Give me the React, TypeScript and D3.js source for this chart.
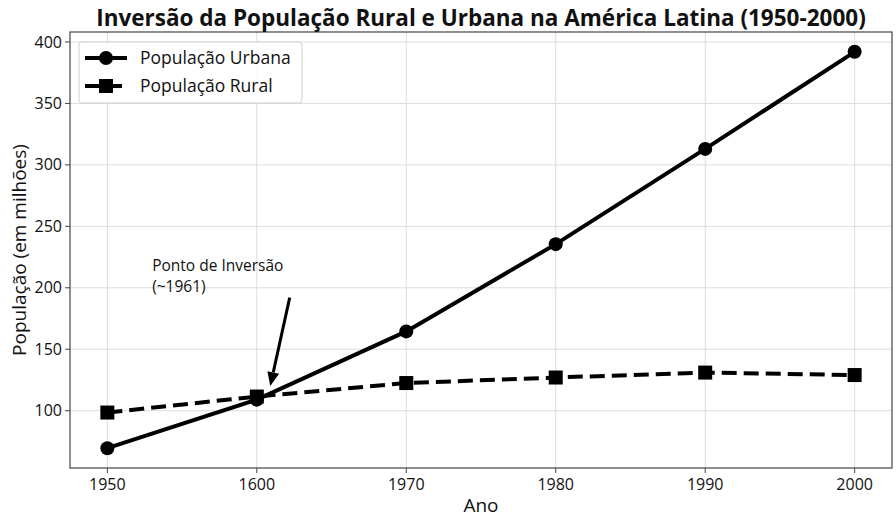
import React from "react";
import * as d3 from "d3";

const years = ["1950", "1600", "1970", "1980", "1990", "2000"];
const urbana = [69.5, 109, 164.5, 235.5, 313, 392];
const rural = [98.5, 111.5, 122.5, 127, 131, 129];
const yTicks = [100, 150, 200, 250, 300, 350, 400];
const title = "Inversão da População Rural e Urbana na América Latina (1950-2000)";
const annotText = ["Ponto de Inversão", "(~1961)"];
const annotTextPos = [0.3, 200];
const arrowFrom = [1.22, 192];
const arrowTo = [1.09, 120];

const W = 896, H = 519;
const m = { left: 70, right: 4, top: 32, bottom: 51 };
const FONT = "'Open Sans', 'Noto Sans', sans-serif";

export default function App() {
  const x = d3.scaleLinear().domain([-0.25, years.length - 1 + 0.25]).range([m.left, W - m.right]);
  const allV = [...urbana, ...rural];
  const lo = d3.min(allV)!, hi = d3.max(allV)!;
  const pad = (hi - lo) * 0.05;
  const y = d3.scaleLinear().domain([lo - pad, hi + pad]).range([H - m.bottom, m.top]);
  const line = d3.line<number>().x((_, i) => x(i)).y((d) => y(d));
  const px0 = m.left, px1 = W - m.right, py0 = m.top, py1 = H - m.bottom;

  const ax = x(arrowFrom[0]), ay = y(arrowFrom[1]);
  const bx = x(arrowTo[0]), by = y(arrowTo[1]);
  const ang = Math.atan2(by - ay, bx - ax);
  const hl = 14, hw = 6;
  const baseX = bx - hl * Math.cos(ang), baseY = by - hl * Math.sin(ang);
  const nx = -Math.sin(ang), ny = Math.cos(ang);
  const tx = x(annotTextPos[0]), ty = y(annotTextPos[1]);

  return (
    <svg width={W} height={H} style={{ position: "absolute", left: 0, top: 0, background: "#fff" }} fontFamily={FONT}>
      <rect x={0} y={0} width={W} height={H} fill="#fff" />
      {/* grid */}
      {years.map((_, i) => (
        <line key={"gx" + i} x1={x(i)} x2={x(i)} y1={py0} y2={py1} stroke="#dcdcdc" strokeWidth={1} />
      ))}
      {yTicks.map((t) => (
        <line key={"gy" + t} x1={px0} x2={px1} y1={y(t)} y2={y(t)} stroke="#dcdcdc" strokeWidth={1} />
      ))}
      {/* lines */}
      <path d={line(rural)!} fill="none" stroke="#000" strokeWidth={4} strokeDasharray="15 7" />
      <path d={line(urbana)!} fill="none" stroke="#000" strokeWidth={4} />
      {rural.map((v, i) => (
        <rect key={"r" + i} x={x(i) - 7} y={y(v) - 7} width={14} height={14} fill="#000" />
      ))}
      {urbana.map((v, i) => (
        <circle key={"u" + i} cx={x(i)} cy={y(v)} r={7} fill="#000" />
      ))}
      {/* annotation */}
      <text x={tx} y={ty - 17} fontSize={15.5} fill="#111">{annotText[0]}</text>
      <text x={tx} y={ty + 4} fontSize={15.5} fill="#111">{annotText[1]}</text>
      <line x1={ax} y1={ay} x2={baseX} y2={baseY} stroke="#000" strokeWidth={3} />
      <polygon
        points={`${bx},${by} ${baseX + nx * hw},${baseY + ny * hw} ${baseX - nx * hw},${baseY - ny * hw}`}
        fill="#000"
      />
      {/* frame */}
      <rect x={px0} y={py0} width={px1 - px0} height={py1 - py0} fill="none" stroke="#444" strokeWidth={1.2} />
      {/* x ticks */}
      {years.map((yr, i) => (
        <g key={"xt" + i}>
          <line x1={x(i)} x2={x(i)} y1={py1} y2={py1 + 5} stroke="#444" />
          <text x={x(i)} y={py1 + 22} textAnchor="middle" fontSize={16} fill="#111">{yr}</text>
        </g>
      ))}
      {yTicks.map((t) => (
        <g key={"yt" + t}>
          <line x1={px0 - 5} x2={px0} y1={y(t)} y2={y(t)} stroke="#444" />
          <text x={px0 - 8} y={y(t)} dy="0.35em" textAnchor="end" fontSize={16} fill="#111">{t}</text>
        </g>
      ))}
      {/* axis labels */}
      <text x={(px0 + px1) / 2} y={512} textAnchor="middle" fontSize={19} fill="#111">Ano</text>
      <text transform={`translate(26,${(py0 + py1) / 2}) rotate(-90)`} textAnchor="middle" fontSize={19} fill="#111">
        População (em milhões)
      </text>
      {/* title */}
      <text x={(px0 + px1) / 2} y={26} textAnchor="middle" fontSize={22.5} fontWeight="bold" fill="#111">{title}</text>
      {/* legend */}
      <rect x={79} y={42} width={223} height={61} rx={3} fill="#fff" fillOpacity={0.85} stroke="#d0d0d0" />
      <line x1={85} x2={127} y1={58} y2={58} stroke="#000" strokeWidth={4} />
      <circle cx={106} cy={58} r={7} fill="#000" />
      <text x={140} y={58} dy="0.35em" fontSize={17.5} fill="#111">População Urbana</text>
      <line x1={85} x2={127} y1={86} y2={86} stroke="#000" strokeWidth={4} strokeDasharray="15 7" />
      <rect x={99} y={79} width={14} height={14} fill="#000" />
      <text x={140} y={86} dy="0.35em" fontSize={17.5} fill="#111">População Rural</text>
    </svg>
  );
}
